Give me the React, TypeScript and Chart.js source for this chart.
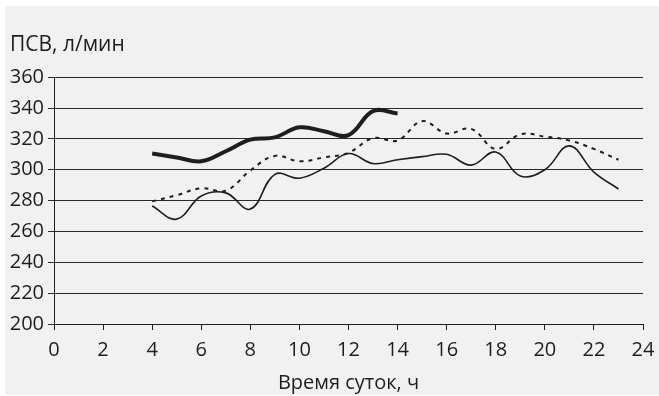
import React, { useEffect, useRef } from "react";
import { Chart, registerables } from "chart.js";

Chart.register(...registerables);

const hoursThick = [4, 5, 6, 7, 8, 9, 10, 11, 12, 13, 14];
const valuesThick = [310.5, 308, 305.5, 312, 319.5, 321, 327.5, 325, 322.5, 338, 336.5];

const hoursDashed = [4, 5, 6, 7, 8, 9, 10, 11, 12, 13, 14, 15, 16, 17, 18, 19, 20, 21, 22, 23];
const valuesDashed = [279.5, 283.5, 288, 286.5, 299.5, 309, 305.5, 308, 311, 320.5, 319, 331.5, 323.5, 326.5, 313.5, 323, 321.5, 319, 313.5, 306.5];

const hoursThin = [4, 5, 6, 7, 8, 9, 10, 11, 12, 13, 14, 15, 16, 17, 18, 19, 20, 21, 22, 23];
const valuesThin = [276.5, 268, 283, 285, 274.5, 297, 294.5, 301, 310.5, 304, 306.5, 308.5, 310, 303, 311.5, 296, 300, 315.5, 298.5, 287.5];

const xTicks = [0, 2, 4, 6, 8, 10, 12, 14, 16, 18, 20, 22, 24];
const yTicks = [200, 220, 240, 260, 280, 300, 320, 340, 360];

const yTitle = "ПСВ, л/мин";
const xTitle = "Время суток, ч";

const FONT = "'Open Sans', 'Noto Sans', sans-serif";
const INK = "#1e1e1e";

function pts(xs: number[], ys: number[]) {
  return xs.map((x, i) => ({ x, y: ys[i] }));
}

export default function App() {
  const ref = useRef<HTMLCanvasElement | null>(null);

  useEffect(() => {
    if (!ref.current) return;
    const chart = new Chart(ref.current, {
      type: "line",
      data: {
        datasets: [
          {
            data: pts(hoursThin, valuesThin),
            borderColor: INK,
            borderWidth: 1.6,
            pointRadius: 0,
            tension: 0.4,
            fill: false,
          },
          {
            data: pts(hoursDashed, valuesDashed),
            borderColor: INK,
            borderWidth: 2,
            borderDash: [4, 5],
            pointRadius: 0,
            tension: 0.4,
            fill: false,
          },
          {
            data: pts(hoursThick, valuesThick),
            borderColor: INK,
            borderWidth: 4,
            pointRadius: 0,
            tension: 0.4,
            fill: false,
          },
        ],
      },
      options: {
        animation: false,
        responsive: false,
        maintainAspectRatio: false,
        layout: { padding: { left: 5, right: 16, top: 0, bottom: 0 } },
        plugins: {
          legend: { display: false },
          tooltip: { enabled: false },
          title: {
            display: true,
            text: yTitle,
            align: "start",
            color: INK,
            font: { family: FONT, size: 21, weight: "normal" },
            padding: { top: 26, bottom: 20 },
          },
        },
        scales: {
          x: {
            type: "linear",
            min: 0,
            max: 24,
            afterBuildTicks: (s: any) => {
              s.ticks = xTicks.map((v) => ({ value: v }));
            },
            afterFit: (s: any) => {
              s.paddingRight = 0;
            },
            ticks: {
              color: INK,
              font: { family: FONT, size: 20 },
              padding: 8,
              maxRotation: 0,
              autoSkip: false,
            },
            grid: {
              drawOnChartArea: false,
              drawTicks: true,
              tickLength: 6,
              color: INK,
            },
            border: { display: true, color: INK, width: 1 },
            title: {
              display: true,
              text: xTitle,
              color: INK,
              font: { family: FONT, size: 20 },
              padding: { top: 1, bottom: 0 },
            },
          },
          y: {
            type: "linear",
            min: 200,
            max: 360,
            afterBuildTicks: (s: any) => {
              s.ticks = yTicks.map((v) => ({ value: v }));
            },
            afterFit: (s: any) => {
              s.width = 44;
            },
            ticks: {
              color: INK,
              font: { family: FONT, size: 20 },
              padding: 4,
              autoSkip: false,
            },
            grid: {
              drawOnChartArea: true,
              drawTicks: true,
              tickLength: 6,
              color: "#2a2a2a",
              lineWidth: 1,
            },
            border: { display: true, color: INK, width: 1 },
          },
        },
      },
    });
    return () => chart.destroy();
  }, []);

  return (
    <div
      style={{
        position: "fixed",
        left: 0,
        top: 0,
        width: 659,
        height: 396,
        background: "#ffffff",
      }}
    >
      <canvas
        ref={ref}
        width={654}
        height={389}
        style={{
          position: "absolute",
          left: 5,
          top: 6,
          width: 654,
          height: 389,
          background: "#f1f1f1",
        }}
      />
    </div>
  );
}
